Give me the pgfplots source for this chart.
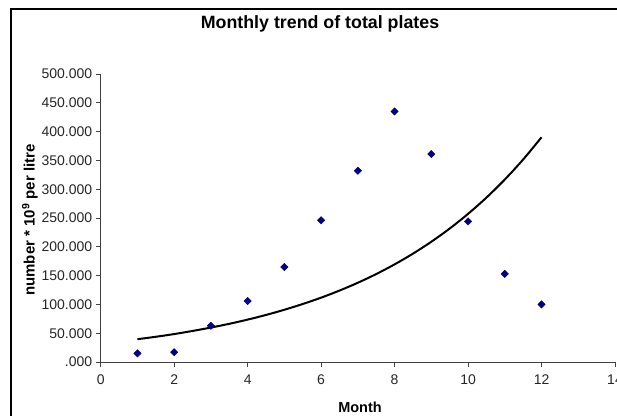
\documentclass[border=0pt]{standalone}
\usepackage{fontspec}
\setmainfont{Liberation Sans}
\usepackage{pgfplots}
\pgfplotsset{compat=1.18}
\definecolor{navy}{RGB}{0,0,128}
\begin{document}
\begin{tikzpicture}
\begin{axis}[
  at={(0pt,0pt)}, anchor=south west,
  scale only axis, width=514.3pt, height=288pt,
  xmin=0, xmax=14, ymin=0, ymax=500,
  axis x line*=bottom, axis y line*=left,
  axis line style={line width=0.9pt, black!75},
  xtick={0,2,...,14}, ytick={0,50,...,500},
  yticklabels={.000,50.000,100.000,150.000,200.000,250.000,300.000,350.000,400.000,450.000,500.000},
  tick align=outside, major tick length=5pt,
  tick style={line width=0.9pt, black!75},
  /pgf/number format/assume math mode=true,
  tick label style={font=\fontsize{14}{16}\selectfont, text=black!85},
  xticklabel style={yshift=-4pt},
  clip=false,
]
\addplot[black, line width=2pt, smooth] coordinates {
(1,39.6) (1.5,43.8) (2,48.5) (2.5,53.9) (3,59.8) (3.5,66.3) (4,73.6) (4.5,81.7)
(5,90.7) (5.5,100.7) (6,111.7) (6.5,124.0) (7,137.6) (7.5,152.7) (8,169.5)
(8.5,188.1) (9,208.8) (9.5,231.7) (10,257.2) (10.5,285.4) (11,316.8) (11.5,351.6) (12,390.2)};
\addplot[only marks, mark=square*, mark size=2.6pt, color=navy, mark options={rotate=45}] coordinates {
(1,15) (2,17) (3,63) (4,106) (5,165) (6,246) (7,332) (8,435) (9,361) (10,244) (11,153) (12,100)};
\end{axis}
\node[font=\fontsize{17.8}{20}\selectfont\bfseries] at (219.3pt,338pt) {Monthly trend of total plates};
\node[rotate=90, font=\fontsize{15}{17}\selectfont\bfseries] at (-70.7pt,142pt) {number * 10\textsuperscript{9} per litre};
\node[font=\fontsize{14.5}{16}\selectfont\bfseries] at (259.3pt,-45pt) {Month};
\draw[line width=2pt] (-89.7pt,-90pt) rectangle (540pt,352.7pt);
\pgfresetboundingbox
\path[use as bounding box] (-100.7pt,-53pt) rectangle (516.3pt,362pt);
\end{tikzpicture}
\end{document}
